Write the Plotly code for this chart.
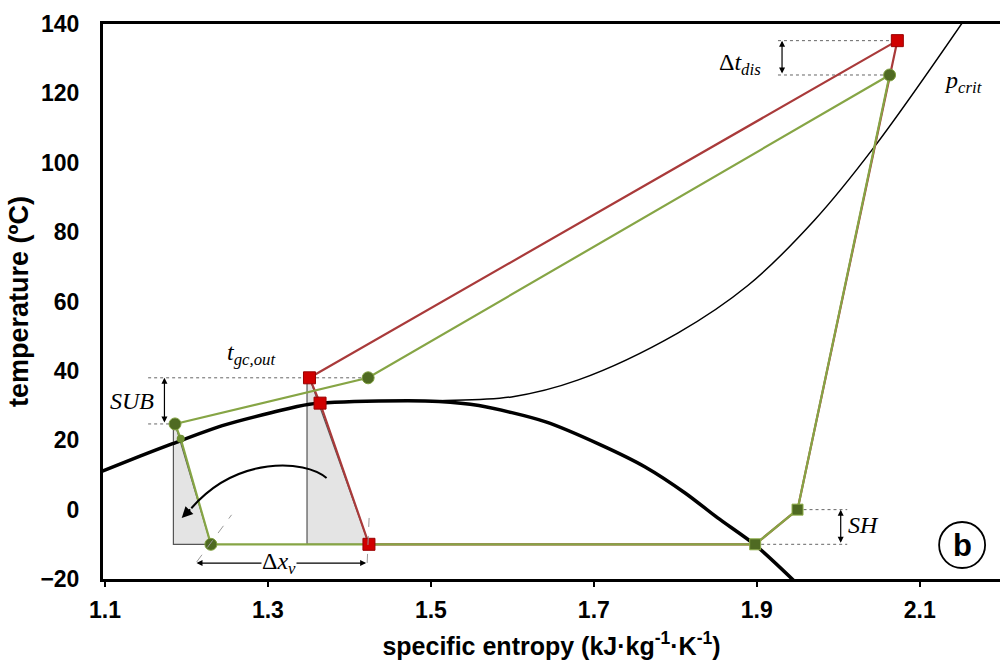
import plotly.graph_objects as go

# ---------------- data ----------------
# saturation dome (thick black)
dome_s = [1.090, 1.143, 1.183, 1.244, 1.305, 1.351, 1.436, 1.510, 1.559, 1.641, 1.709, 1.763, 1.812, 1.852, 1.898, 1.950]
dome_T = [10.5, 15.4, 19.0, 24.2, 28.0, 30.4, 31.3, 31.2, 30.0, 25.3, 18.6, 12.3, 4.8, -2.4, -10.2, -21.5]

# critical isobar (thin black)
pcrit_s = [1.440, 1.510, 1.599, 1.681, 1.803, 1.889, 1.971, 2.044, 2.160]
pcrit_T = [31.3, 31.4, 32.5, 37.4, 50.9, 64.6, 83.5, 104.5, 143.0]

# red cycle (squares): discharge, gas-cooler outlet, saturation crossing, evaporator inlet, evaporator outlet, superheat
red_s = [2.0725, 1.351, 1.364, 1.424, 1.898, 1.950, 2.0725]
red_T = [135.2, 38.0, 30.7, -10.0, -10.0, 0.0, 135.2]
red_mark_idx = [0, 1, 2, 3]

# green cycle (circles): discharge, gas-cooler outlet, subcooled, saturation crossing, evaporator inlet, evaporator outlet, superheat
green_s = [2.063, 1.423, 1.186, 1.193, 1.230, 1.898, 1.950, 2.063]
green_T = [125.3, 38.0, 24.7, 20.4, -10.0, -10.0, 0.0, 125.3]

# grey triangles (isentropic vs isenthalpic expansion)
triL_s = [1.184, 1.184, 1.230, 1.186, 1.184]
triL_T = [24.0, -10.0, -10.0, 24.7, 24.0]
triR_s = [1.348, 1.348, 1.424, 1.351, 1.348]
triR_T = [37.0, -10.0, -10.0, 38.0, 37.0]

x_ticks = [1.1, 1.3, 1.5, 1.7, 1.9, 2.1]
y_ticks = [-20, 0, 20, 40, 60, 80, 100, 120, 140]

RED_LINE = "#a93a3a"
RED_MARK = "#d00000"
GREEN_LINE = "#86a545"
GREEN_MARK = "#4f6a22"

fig = go.Figure()

for ts, tT in [(triL_s, triL_T), (triR_s, triR_T)]:
    fig.add_trace(go.Scatter(x=ts, y=tT, mode="lines", fill="toself",
                             fillcolor="#e4e4e4", line=dict(color="#555555", width=1.2),
                             hoverinfo="skip", showlegend=False))

fig.add_trace(go.Scatter(x=dome_s, y=dome_T, mode="lines",
                         line=dict(color="black", width=3.5, shape="spline", smoothing=0.8),
                         showlegend=False))
fig.add_trace(go.Scatter(x=pcrit_s, y=pcrit_T, mode="lines",
                         line=dict(color="black", width=1.5, shape="spline", smoothing=1.0),
                         showlegend=False))

# red cycle line
fig.add_trace(go.Scatter(x=red_s, y=red_T, mode="lines", line=dict(color=RED_LINE, width=2.2), showlegend=False))
# green cycle line
fig.add_trace(go.Scatter(x=green_s, y=green_T, mode="lines", line=dict(color=GREEN_LINE, width=2.2), showlegend=False))

# markers
fig.add_trace(go.Scatter(x=[red_s[i] for i in red_mark_idx], y=[red_T[i] for i in red_mark_idx], mode="markers",
                         marker=dict(symbol="square", size=12, color=RED_MARK, line=dict(color="#9a0000", width=1)),
                         showlegend=False))
fig.add_trace(go.Scatter(x=[green_s[i] for i in [0, 1, 2, 4]], y=[green_T[i] for i in [0, 1, 2, 4]], mode="markers",
                         marker=dict(symbol="circle", size=12, color=GREEN_MARK, line=dict(color="#7f9f3f", width=1)),
                         showlegend=False))
fig.add_trace(go.Scatter(x=[green_s[3]], y=[green_T[3]], mode="markers",
                         marker=dict(symbol="circle", size=8, color="#6f8f34"), showlegend=False))
fig.add_trace(go.Scatter(x=[green_s[5], green_s[6]], y=[green_T[5], green_T[6]], mode="markers",
                         marker=dict(symbol="square", size=11, color=GREEN_MARK, line=dict(color="#8fae4a", width=1)),
                         showlegend=False))

shapes = []
dot = dict(color="#666666", width=1, dash="dot")
dash = dict(color="#999999", width=1, dash="dash")
# SUB guides
shapes.append(dict(type="line", x0=1.153, x1=green_s[1], y0=38.0, y1=38.0, line=dot, layer="below"))
shapes.append(dict(type="line", x0=1.153, x1=green_s[2], y0=green_T[2], y1=green_T[2], line=dot, layer="below"))
# discharge guides
shapes.append(dict(type="line", x0=1.926, x1=red_s[0], y0=red_T[0], y1=red_T[0], line=dot, layer="below"))
shapes.append(dict(type="line", x0=1.926, x1=green_s[0], y0=green_T[0], y1=green_T[0], line=dot, layer="below"))
# SH guides
shapes.append(dict(type="line", x0=green_s[6], x1=2.011, y0=0, y1=0, line=dot, layer="below"))
shapes.append(dict(type="line", x0=green_s[5], x1=2.011, y0=-10, y1=-10, line=dot, layer="below"))
# dashed marks at expansion ends
shapes.append(dict(type="line", x0=1.2125, y0=-15.1, x1=1.2554, y1=-1.5, line=dash))
shapes.append(dict(type="line", x0=1.4242, y0=-2.4, x1=1.4217, y1=-16.0, line=dash))
# curved arrow
shapes.append(dict(type="path", path="M 1.372,9.1 C 1.345,14.5 1.262,15.5 1.206,0.4",
                   line=dict(color="black", width=2)))
# (b) circle
shapes.append(dict(type="circle", xref="x", yref="y", xsizemode="pixel", ysizemode="pixel",
                   xanchor=2.152, yanchor=-10.2, x0=-23, x1=23, y0=-23, y1=23,
                   line=dict(color="black", width=1.8)))

SERIF = "Liberation Serif"
ann = []
def darrow(x, y, ax, ay):
    return dict(x=x, y=y, ax=ax, ay=ay, xref="x", yref="y", axref="x", ayref="y", text="",
                showarrow=True, arrowhead=2, startarrowhead=2, arrowside="end+start",
                arrowsize=1, arrowwidth=1.2, arrowcolor="black", standoff=0, startstandoff=0)

ann.append(darrow(1.173, 38.0, 1.173, green_T[2]))
ann.append(darrow(1.931, red_T[0], 1.931, green_T[0]))
ann.append(darrow(2.003, 0, 2.003, -10))
ann.append(darrow(1.4205, -15.4, 1.2105, -15.4))
# curved arrow head
ann.append(dict(x=1.1942, y=-2.4, ax=1.2064, ay=0.5, xref="x", yref="y", axref="x", ayref="y", text="",
                showarrow=True, arrowhead=2, arrowsize=1.1, arrowwidth=2, arrowcolor="black", standoff=0))

tf = dict(family=SERIF, size=24, color="black")
ann.append(dict(x=1.133, y=31.3, text="<i>SUB</i>", showarrow=False, font=tf))
ann.append(dict(x=1.279, y=44.8, text="<i>t</i><sub><i>gc,out</i></sub>", showarrow=False, font=tf))
ann.append(dict(x=1.880, y=128.4, text="Δ<i>t</i><sub><i>dis</i></sub>", showarrow=False, font=tf))
ann.append(dict(x=2.153, y=123.3, text="<i>p</i><sub><i>crit</i></sub>", showarrow=False, font=tf))
ann.append(dict(x=2.031, y=-4.4, text="<i>SH</i>", showarrow=False, font=tf))
ann.append(dict(x=1.314, y=-15.4, text="Δ<i>x</i><sub><i>v</i></sub>", showarrow=False, font=tf,
                bgcolor="white", borderpad=0))
ann.append(dict(x=2.152, y=-10.2, text="<b>b</b>", showarrow=False,
                font=dict(family="Liberation Sans", size=31, color="black")))

SANS = "Liberation Sans, Arial"
tickfont = dict(family=SANS, size=23, color="black", weight="bold")
fig.update_layout(
    width=1000, height=671,
    margin=dict(l=103, r=0, t=24, b=92),
    plot_bgcolor="white", paper_bgcolor="white",
    shapes=shapes, annotations=ann,
    xaxis=dict(range=[1.0976, 2.1985], tickvals=x_ticks, ticktext=[f"{v:.1f}" for v in x_ticks],
               showgrid=False, zeroline=False, showline=True, linewidth=3, linecolor="black", mirror=True,
               ticks="outside", ticklen=5, tickwidth=1.5, tickcolor="black", ticklabelstandoff=3,
               tickfont=tickfont,
               title=dict(text="specific entropy (kJ·kg<sup>-1</sup>·K<sup>-1</sup>)", standoff=16,
                          font=dict(family=SANS, size=25, color="black", weight="bold"))),
    yaxis=dict(range=[-20, 140], tickvals=y_ticks, showgrid=False, zeroline=False, showline=True, linewidth=3,
               linecolor="black", ticks="", ticklabelstandoff=16, tickfont=tickfont,
               title=dict(text="temperature (ºC)", standoff=4,
                          font=dict(family=SANS, size=27, color="black", weight="bold"))),
)

fig.write_html("out.html")
